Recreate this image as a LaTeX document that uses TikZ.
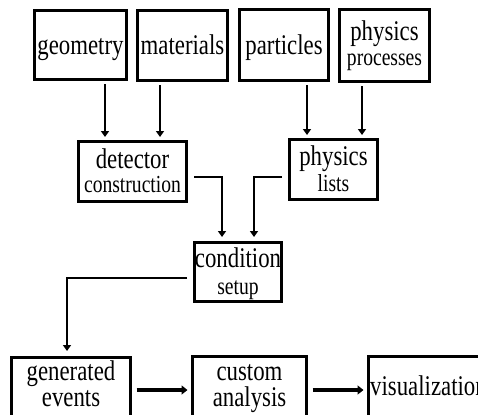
\documentclass[tikz,border=0pt]{standalone}
\usepackage{fontspec}
\setmainfont[FakeStretch=0.8]{Liberation Serif}
\usetikzlibrary{arrows.meta}
\begin{document}
\begin{tikzpicture}[x=1bp,y=-1bp,
  box/.style={draw, line width=3bp, inner sep=0pt},
  big/.style={font=\fontsize{28.5bp}{30bp}\selectfont, inner sep=0pt, anchor=base},
  small/.style={font=\fontsize{24.5bp}{26bp}\selectfont, inner sep=0pt, anchor=base},
  arr/.style={line width=2.8bp, -{Triangle[length=6bp,width=8bp]}},
  thick arr/.style={line width=4bp, -{Triangle[length=6bp,width=9bp]}}]
\useasboundingbox (0,0) rectangle (478,414);
% boxes
\node[box, minimum width=92bp, minimum height=69bp] (geo) at (80.5,45) {};
\node[box, minimum width=90bp, minimum height=70bp] (mat) at (182.5,45.5) {};
\node[box, minimum width=89bp, minimum height=71bp] (part) at (284,45) {};
\node[box, minimum width=90bp, minimum height=72bp] (proc) at (384.5,45.5) {};
\node[box, minimum width=108bp, minimum height=60bp] (det) at (132.5,171.5) {};
\node[box, minimum width=88bp, minimum height=60bp] (lists) at (333.5,169.5) {};
\node[box, minimum width=87bp, minimum height=59bp] (cond) at (238,272) {};
\node[box, minimum width=119bp, minimum height=81bp] (gen) at (71,398) {};
\node[box, minimum width=114bp, minimum height=82bp] (cust) at (249.5,397.5) {};
\node[box, minimum width=150bp, minimum height=82bp] (vis) at (443.5,397.5) {};
% texts
\node[big] (tgeo) at (80.5,54) {geometry};
\node[big] (tmat) at (182.5,54) {materials};
\node[big] (tpart) at (284,54) {particles};
\node[big] (tproc1) at (384.5,40) {physics};
\node[small] (tproc2) at (384.5,65) {processes};
\node[big] (tdet1) at (132.5,168) {detector};
\node[small] (tdet2) at (132.5,192) {construction};
\node[big] (tlist1) at (333.5,165) {physics};
\node[small] (tlist2) at (333.5,191) {lists};
\node[big] (tcond1) at (238,267) {condition};
\node[small] (tcond2) at (238,294) {setup};
\node[big] (tgen1) at (71,380) {generated};
\node[big] (tgen2) at (71,406) {events};
\node[big] (tcust1) at (249.5,380) {custom};
\node[big] (tcust2) at (249.5,406) {analysis};
\node[big, anchor=base west] (tvis) at (370,395) {visualization};
% junctions
\coordinate (j1) at (222,177);
\coordinate (j2) at (254,177);
\coordinate (j3) at (67,278);
\coordinate (r1) at (0,390);
% connectors
\draw[arr, shorten <=3bp, shorten >=3bp] ([xshift=-27.5bp]det.north |- geo.south) -- ([xshift=-27.5bp]det.north);
\draw[arr, shorten <=3bp, shorten >=3bp] ([xshift=27.5bp]det.north |- mat.south) -- ([xshift=27.5bp]det.north);
\draw[arr, shorten <=3bp, shorten >=3bp] ([xshift=-26.5bp]lists.north |- part.south) -- ([xshift=-26.5bp]lists.north);
\draw[arr, shorten <=3bp, shorten >=3bp] ([xshift=28.5bp]lists.north |- proc.south) -- ([xshift=28.5bp]lists.north);
\draw[arr, shorten <=6bp, shorten >=4bp] (det.east |- j1) -- (j1) -- (cond.north -| j1);
\draw[arr, shorten <=6bp, shorten >=4bp] (lists.west |- j2) -- (j2) -- (cond.north -| j2);
\draw[arr, shorten <=6bp, shorten >=5bp] (cond.west |- j3) -- (j3) -- (gen.north -| j3);
\draw[thick arr, shorten <=4.5bp, shorten >=3.5bp] (gen.east |- r1) -- (cust.west |- r1);
\draw[thick arr, shorten <=4.5bp, shorten >=3.5bp] (cust.east |- r1) -- (vis.west |- r1);
\end{tikzpicture}
\end{document}
